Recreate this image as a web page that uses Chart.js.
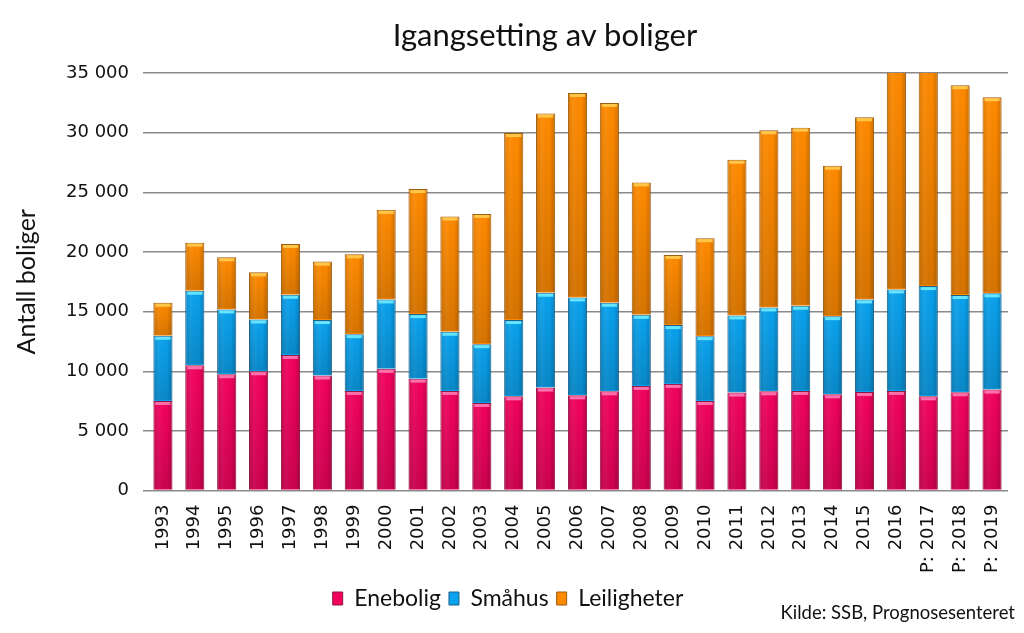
<!DOCTYPE html>
<html>
<head>
<meta charset="utf-8">
<script src="https://cdn.jsdelivr.net/npm/chart.js@4"></script>
<style>
  body { margin: 0; background: #fff; }
  #wrap { position: relative; width: 1024px; height: 633px; }
  #title { position: absolute; left: 545px; top: 15px; transform: translateX(-50%); font: 31px Lato, sans-serif; color: #111; white-space: nowrap; }
  #source { position: absolute; right: 9px; top: 601px; font: 18.5px Lato, sans-serif; color: #111; }
</style>
</head>
<body>
<div id="wrap">
  <canvas id="boligChart" width="1024" height="633"></canvas>
  <div id="title">Igangsetting av boliger</div>
  <div id="source">Kilde: SSB, Prognosesenteret</div>
</div>
<script>
// Igangsatte boliger per år
const years = ['1993', '1994', '1995', '1996', '1997', '1998', '1999', '2000', '2001', '2002',
    '2003', '2004', '2005', '2006', '2007', '2008', '2009', '2010', '2011', '2012',
    '2013', '2014', '2015', '2016', 'P: 2017', 'P: 2018', 'P: 2019'];

const enebolig = [7510, 10500, 9750, 10000, 11370, 9640, 8350, 10200, 9380, 8350,
    7340, 7900, 8630, 7980, 8320, 8770, 8940, 7510, 8210, 8320,
    8350, 8070, 8260, 8350, 7900, 8240, 8460];

const smahus = [5460, 6250, 5430, 4340, 5040, 4650, 4760, 5820, 5410, 4960,
    4930, 6390, 7950, 8210, 7420, 5960, 4930, 5430, 6470, 7030,
    7140, 6550, 7760, 8510, 9240, 8150, 8070];

const leiligheter = [2770, 4030, 4370, 3950, 4260, 4900, 6690, 7510, 10480, 9660,
    10920, 15680, 15020, 17140, 16750, 11100, 5880, 8210, 13050, 14850,
    14930, 12610, 15270, 18500, 18500, 17590, 16440];

const yTicks = [0, 5000, 10000, 15000, 20000, 25000, 30000, 35000];

// glossy look on each bar, drawn on top of the bars Chart.js already placed
const glossPlugin = {
    id: 'gloss',
    afterDatasetsDraw(chart) {
        const ctx = chart.ctx;
        const area = chart.chartArea;
        ctx.save();
        ctx.beginPath();
        ctx.rect(area.left, area.top, area.right - area.left, area.bottom - area.top);
        ctx.clip();
        chart.data.datasets.forEach((ds, i) => {
            const meta = chart.getDatasetMeta(i);
            meta.data.forEach(bar => {
                const p = bar.getProps(['x', 'y', 'base', 'width'], true);
                const left = p.x - p.width / 2;
                const top = Math.min(p.y, p.base);
                const h = Math.abs(p.base - p.y);

                const hg = ctx.createLinearGradient(left, 0, left + p.width, 0);
                hg.addColorStop(0, 'rgba(0,0,0,0.15)');
                hg.addColorStop(0.35, 'rgba(255,255,255,0.04)');
                hg.addColorStop(0.7, 'rgba(0,0,0,0.0)');
                hg.addColorStop(1, 'rgba(0,0,0,0.2)');
                ctx.fillStyle = hg;
                ctx.fillRect(left + 1, top + 1, p.width - 2, h - 2);

                const vg = ctx.createLinearGradient(0, top, 0, top + h);
                vg.addColorStop(0, 'rgba(0,0,0,0)');
                vg.addColorStop(1, 'rgba(0,0,0,0.16)');
                ctx.fillStyle = vg;
                ctx.fillRect(left + 1, top + 1, p.width - 2, h - 2);

                // light cap on top of segment
                ctx.fillStyle = ds.capColor;
                ctx.fillRect(left + 2, top + 1, p.width - 4, 3);
            });
        });
        ctx.restore();
    }
};

const ctx = document.getElementById('boligChart').getContext('2d');

new Chart(ctx, {
    type: 'bar',
    data: {
        labels: years,
        datasets: [
            {
                label: 'Enebolig',
                data: enebolig,
                backgroundColor: '#F2035E',
                borderColor: '#8E1540',
                borderWidth: 1,
                capColor: 'rgba(255,130,185,0.85)'
            },
            {
                label: 'Småhus',
                data: smahus,
                backgroundColor: '#0AA2EE',
                borderColor: '#1A5F8A',
                borderWidth: 1,
                capColor: 'rgba(110,235,255,0.9)'
            },
            {
                label: 'Leiligheter',
                data: leiligheter,
                backgroundColor: '#FF8A00',
                borderColor: '#9A5A10',
                borderWidth: 1,
                capColor: 'rgba(255,205,80,0.9)'
            }
        ]
    },
    options: {
        responsive: false,
        animation: false,
        layout: { padding: { left: 8, right: 16, top: 73, bottom: 13 } },
        datasets: {
            bar: { barPercentage: 0.6, categoryPercentage: 1.0 }
        },
        plugins: {
            legend: {
                position: 'bottom',
                labels: {
                    color: '#111',
                    boxWidth: 10,
                    boxHeight: 13,
                    padding: 8,
                    font: { family: 'Lato', size: 23 }
                }
            },
            tooltip: { enabled: false }
        },
        scales: {
            x: {
                stacked: true,
                grid: { display: false },
                border: { display: false },
                ticks: {
                    color: '#111',
                    minRotation: 90,
                    maxRotation: 90,
                    autoSkip: false,
                    padding: 6,
                    font: { family: 'DejaVu Sans', size: 18 }
                }
            },
            y: {
                stacked: true,
                min: 0,
                max: 35000,
                afterBuildTicks: axis => { axis.ticks = yTicks.map(v => ({ value: v })); },
                grid: { color: '#8a8a8a', lineWidth: 1.5, tickLength: 4 },
                border: { display: false },
                title: {
                    display: true,
                    text: 'Antall boliger',
                    color: '#111',
                    font: { family: 'Lato', size: 25 },
                    padding: { bottom: 10 }
                },
                ticks: {
                    color: '#111',
                    padding: 14,
                    font: { family: 'DejaVu Sans', size: 18 },
                    callback: v => v === 0 ? '0' : Math.floor(v / 1000) + ' ' + String(v % 1000).padStart(3, '0')
                }
            }
        }
    },
    plugins: [glossPlugin]
});
</script>
</body>
</html>
